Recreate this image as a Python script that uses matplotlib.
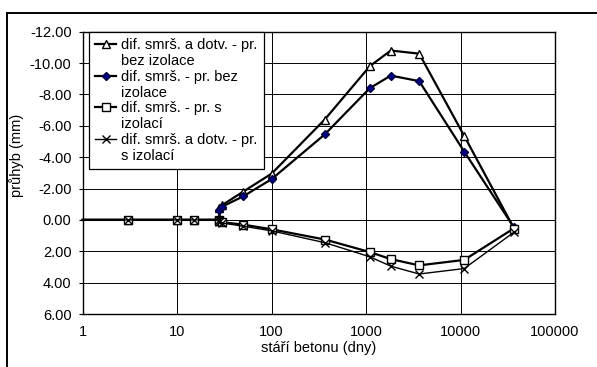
import matplotlib
matplotlib.use('Agg')
import matplotlib.pyplot as plt
from matplotlib.lines import Line2D
from matplotlib.patches import Rectangle

plt.rcParams['font.family'] = ['Liberation Sans', 'DejaVu Sans']

# stari betonu (dny) - v 28 dnech dva body (pred/po zatizeni)
stari = [1, 3, 10, 15, 28, 28, 30, 50, 100, 365, 1095, 1825, 3650, 10950, 36500]

# pruhyby (mm)
bez_izol_dotv = [0, 0, 0, 0, 0, -0.75, -0.95, -1.8, -2.95, -6.4, -9.8, -10.8, -10.6, -5.35, 0.5]
bez_izol_smrs = [0, 0, 0, 0, 0, -0.65, -0.85, -1.5, -2.6, -5.45, -8.4, -9.2, -8.85, -4.35, 0.45]
s_izol_smrs = [0, 0, 0, 0, 0, 0.1, 0.15, 0.3, 0.6, 1.25, 2.05, 2.5, 2.9, 2.55, 0.55]
s_izol_dotv = [0, 0, 0, 0, 0, 0.15, 0.2, 0.4, 0.7, 1.45, 2.35, 2.95, 3.45, 3.1, 0.8]

popisky = [('dif. smrš. a dotv. - pr.', 'bez izolace'),
           ('dif. smrš. - pr. bez', 'izolace'),
           ('dif. smrš. - pr. s', 'izolací'),
           ('dif. smrš. a dotv. - pr.', 's izolací')]

yticks = [-12, -10, -8, -6, -4, -2, 0, 2, 4, 6]
xticks = [1, 10, 100, 1000, 10000, 100000]

fs = 10.5

fig = plt.figure(figsize=(5.97, 3.67), dpi=100)
ax = fig.add_axes([82.7 / 597, 1 - 314 / 367, (555 - 82.7) / 597, (314 - 31.7) / 367])

# ramecek kolem celeho grafu
fig.patches.append(Rectangle((7 / 597, -0.2), 1.2, 1.2 - 13 / 367, transform=fig.transFigure,
                             fill=False, edgecolor='black', linewidth=1.4))

styly = [dict(marker='^', markersize=6, markerfacecolor='white', markeredgecolor='black', linewidth=1.6),
         dict(marker='D', markersize=4.2, markerfacecolor='#000080', markeredgecolor='#000040', linewidth=1.6),
         dict(marker='s', markersize=5.2, markerfacecolor='white', markeredgecolor='black', linewidth=1.6),
         dict(marker='x', markersize=6, markeredgecolor='black', linewidth=1.0)]

handles = []
labels = []
for data, styl, pop in zip([bez_izol_dotv, bez_izol_smrs, s_izol_smrs, s_izol_dotv], styly, popisky):
    h, = ax.plot(stari, data, color='black', markevery=slice(1, None), clip_on=False, zorder=3, **styl)
    handles.append(h)
    labels.append(pop[0])
    # druhy radek popisku bez znacky
    handles.append(Line2D([], [], linestyle='none'))
    labels.append(pop[1])

ax.set_xscale('log')
ax.set_xlim(1, 100000)
ax.set_ylim(6, -12)
ax.set_xticks(xticks)
ax.set_xticklabels([str(v) for v in xticks])
ax.minorticks_off()
ax.set_yticks(yticks)
ax.set_yticklabels(['%.2f' % v if v != 0 else '0.00' for v in yticks])
ax.tick_params(axis='x', length=0, pad=8, labelsize=fs)
ax.tick_params(axis='y', length=3, width=0.8, pad=5, labelsize=fs)
ax.grid(True, color='black', linewidth=0.7)
ax.set_axisbelow(True)
for s in ax.spines.values():
    s.set_linewidth(1.0)
    s.set_color('black')

leg = ax.legend(handles, labels, loc='upper left', bbox_to_anchor=(0.013, 1.0), borderaxespad=0,
                fontsize=fs, frameon=True, fancybox=False, framealpha=1, edgecolor='black',
                handlelength=1.4, handletextpad=0.35, labelspacing=0.12, borderpad=0.45)
leg.get_frame().set_linewidth(0.9)

fig.text(17 / 597, 1 - 155 / 367, 'průhyb (mm)', rotation=90, ha='center', va='center', fontsize=fs)
fig.text(319 / 597, 1 - 348 / 367, 'stáří betonu (dny)', ha='center', va='center', fontsize=fs)

plt.savefig('out.png', dpi=100)
